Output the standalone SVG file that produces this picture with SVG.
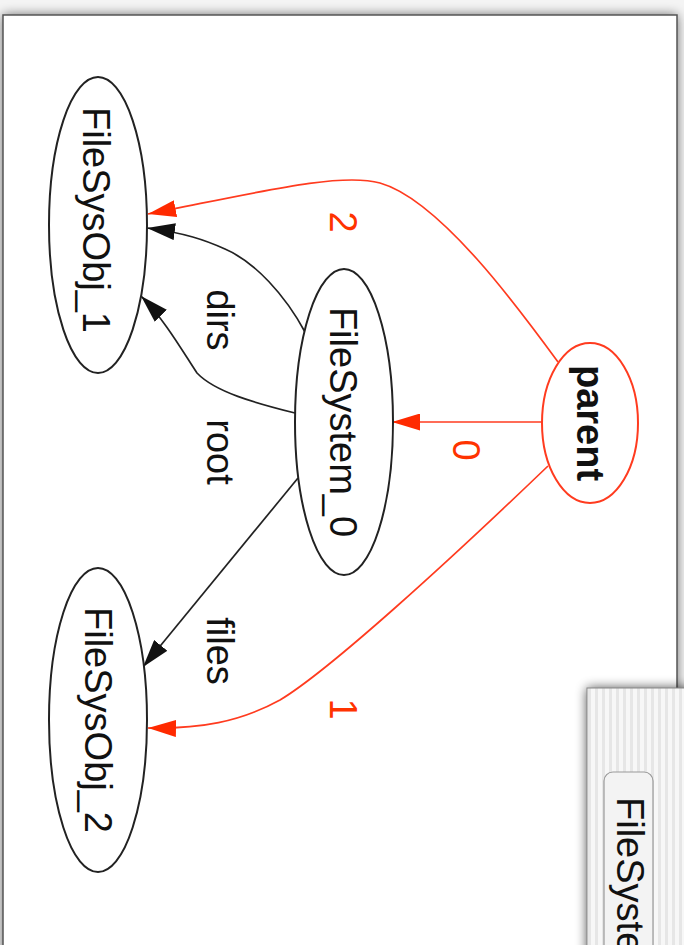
<svg xmlns="http://www.w3.org/2000/svg" width="684" height="945" viewBox="0 0 684 945">
  <style>
    .lbl { font-family: "Liberation Sans", Arial, sans-serif; font-size: 38px; fill: #111; }
    .red { fill: #ff3300; }
    .node { fill: #fff; stroke: #222; stroke-width: 2; }
    .pnode { fill: #fff; stroke: #ff3b1f; stroke-width: 2; }
    .eb { fill: none; stroke: #222; stroke-width: 1.7; }
    .er { fill: none; stroke: #ff3b1f; stroke-width: 1.7; }
  </style>
  <defs>
    <filter id="blur" x="-20%" y="-20%" width="140%" height="140%">
      <feGaussianBlur stdDeviation="6"/>
    </filter>
    <pattern id="stripes" x="0" y="0" width="7" height="10" patternUnits="userSpaceOnUse">
      <rect x="0" y="0" width="7" height="10" fill="#f7f7f7"/>
      <rect x="0" y="0" width="3" height="10" fill="#e6e6e6"/>
    </pattern>
    <marker id="ab" viewBox="0 0 28 17" refX="28" refY="8.5" markerWidth="28" markerHeight="17" markerUnits="userSpaceOnUse" orient="auto">
      <path d="M0,0 L28,8.5 L0,17 z" fill="#111"/>
    </marker>
    <marker id="ar" viewBox="0 0 28 17" refX="28" refY="8.5" markerWidth="28" markerHeight="17" markerUnits="userSpaceOnUse" orient="auto">
      <path d="M0,0 L28,8.5 L0,17 z" fill="#ff2a00"/>
    </marker>
  </defs>

  <rect x="0" y="0" width="684" height="945" fill="#f4f4f4"/>
  <!-- main window -->
  <g id="window-main">
    <rect x="3" y="15" width="674" height="960" fill="#000" opacity="0.6" filter="url(#blur)"/>
    <rect x="3" y="15" width="674" height="960" fill="#fff" stroke="#555" stroke-width="1.5"/>
  </g>

  <g id="connectors">
    <path class="er" d="M543,422 L392,422" marker-end="url(#ar)"/>
    <path class="er" d="M558,362 C520,310 440,200 380,183 C340,172 260,192 148,214" marker-end="url(#ar)"/>
    <path class="er" d="M548,466 C450,560 330,670 280,700 C240,722 200,729 148,728" marker-end="url(#ar)"/>
    <path class="eb" d="M305,332 C285,295 255,262 225,249 C205,240 185,233 147,228" marker-end="url(#ab)"/>
    <path class="eb" d="M295,413 C255,403 215,392 197,373 C183,352 165,320 141,296" marker-end="url(#ab)"/>
    <path class="eb" d="M298,478 L143,667" marker-end="url(#ab)"/>
    <text class="lbl red" transform="translate(453,450) rotate(90)" text-anchor="middle">0</text>
    <text class="lbl red" transform="translate(330,222) rotate(90)" text-anchor="middle">2</text>
    <text class="lbl red" transform="translate(330,709) rotate(90)" text-anchor="middle">1</text>
    <text class="lbl" transform="translate(207,320) rotate(90)" text-anchor="middle">dirs</text>
    <text class="lbl" transform="translate(207,452) rotate(90)" text-anchor="middle">root</text>
    <text class="lbl" transform="translate(207,651) rotate(90)" text-anchor="middle">files</text>
  </g>

  <g id="FileSysObj_1">
    <ellipse class="node" cx="98" cy="225" rx="49" ry="148"/>
    <text class="lbl" transform="translate(83,220) rotate(90)" text-anchor="middle">FileSysObj_1</text>
  </g>
  <g id="FileSysObj_2">
    <ellipse class="node" cx="98" cy="720" rx="49" ry="152"/>
    <text class="lbl" transform="translate(85,720) rotate(90)" text-anchor="middle">FileSysObj_2</text>
  </g>
  <g id="FileSystem_0">
    <ellipse class="node" cx="344" cy="422" rx="49" ry="153"/>
    <text class="lbl" transform="translate(330,422) rotate(90)" text-anchor="middle">FileSystem_0</text>
  </g>
  <g id="parent">
    <ellipse class="pnode" cx="590" cy="423" rx="48" ry="80"/>
    <text class="lbl" font-weight="bold" font-size="36" transform="translate(577,423) rotate(90)" text-anchor="middle">parent</text>
  </g>

  <!-- second window -->
  <g id="window-second">
    <rect x="587" y="688" width="200" height="300" fill="#000" opacity="0.7" filter="url(#blur)"/>
    <rect x="587" y="688" width="200" height="300" fill="url(#stripes)" stroke="#888" stroke-width="1"/>
    <rect x="604" y="772" width="49" height="200" rx="9" fill="#f3f3f3" stroke="#999" stroke-width="1.2"/>
    <text class="lbl" transform="translate(617,797) rotate(90)">FileSyste</text>
  </g>
</svg>
